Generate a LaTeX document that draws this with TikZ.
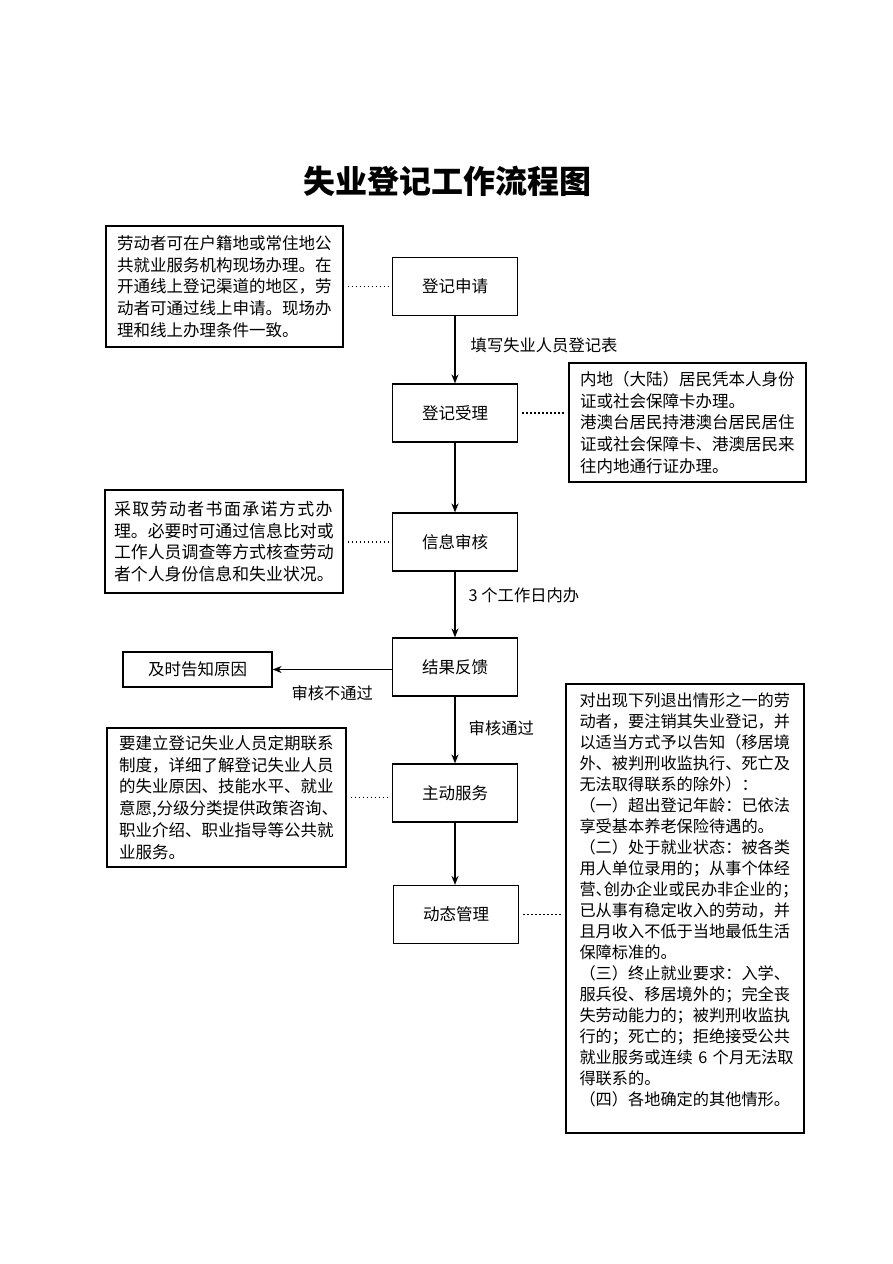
\documentclass[tikz,border=0pt]{standalone}
\usepackage{fontspec}
\setmainfont{Noto Sans CJK SC}
\usetikzlibrary{
    arrows.meta,
    positioning
}
\tikzset{sflow/.style={draw=black, line width=1.2pt, inner sep=0pt, minimum width=125pt, minimum height=58pt, font=\fontsize{16.5}{21.5}\selectfont}}
\tikzset{snote/.style={draw=black, line width=1.2pt, inner sep=0pt, align=left, text width=215pt, font=\fontsize{16.5}{21.7}\selectfont}}
\tikzset{slbl/.style={inner sep=0pt, font=\fontsize{16.3}{20}\selectfont}}
\tikzset{sarr/.style={line width=1.4pt, -{Stealth[length=9pt, width=7pt]}}}
\tikzset{sdot/.style={line width=1.7pt, dash pattern=on 1.5pt off 2.5pt, shorten <=4pt, shorten >=3pt}}

\begin{document}
\begin{tikzpicture}[x=1pt, y=-1pt]
                        \useasboundingbox[fill=white] (0, 0) rectangle (893, 1264);

                        \node[inner sep=0pt, font=\fontsize{32}{32}\bfseries] (title) at (447, 181) {失业登记工作流程图};

                        \node[sflow] (req) at (455, 286.5) {登记申请};
                        \node[sflow] (acc) at (455, 413) {登记受理};
                        \node[sflow] (chk) at (455, 542) {信息审核};
                        \node[sflow] (fb) at (455, 667) {结果反馈};
                        \node[sflow] (svc) at (455, 793) {主动服务};
                        \node[sflow] (dyn) at (456, 914.5) {动态管理};

                        \node[sflow, minimum width=149pt, minimum height=35pt] (reason) at (197.5, 669.5) {及时告知原因};

                        \node[snote, minimum width=237pt, minimum height=121pt] (n1) at (224.5, 286.5) {劳动者可在户籍地或常住地公\\共就业服务机构现场办理。在\\开通线上登记渠道的地区，劳\\动者可通过线上申请。现场办\\理和线上办理条件一致。};
                        \node[snote, minimum width=237pt, minimum height=119pt] (n2) at (687.5, 422.5) {内地（大陆）居民凭本人身份\\证或社会保障卡办理。\\港澳台居民持港澳台居民居住\\证或社会保障卡、港澳居民来\\往内地通行证办理。};
                        \node[snote, text width=220pt, minimum width=238pt, minimum height=103pt, font=\fontsize{16.9}{21.7}\selectfont] (n3) at (224, 541.5) {{\addfontfeature{LetterSpace=8.5}采取劳动者书面承诺方式办}\\理。必要时可通过信息比对或\\工作人员调查等方式核查劳动\\者个人身份信息和失业状况。};
                        \node[snote, minimum width=239pt, minimum height=139pt] (n4) at (226.5, 797.5) {要建立登记失业人员定期联系\\制度，详细了解登记失业人员\\的失业原因、技能水平、就业\\意愿,分级分类提供政策咨询、\\职业介绍、职业指导等公共就\\业服务。};
                        \node[snote, text width=211pt, minimum width=238pt, minimum height=449pt, font=\fontsize{16.2}{21}\selectfont] (n5) at (685, 908.5) {对出现下列退出情形之一的劳\\动者，要注销其失业登记，并\\以适当方式予以告知（移居境\\外、被判刑收监执行、死亡及\\无法取得联系的除外）：\\（一）超出登记年龄：已依法\\享受基本养老保险待遇的。\\（二）处于就业状态：被各类\\用人单位录用的；从事个体经\\营\makebox[0.5em][l]{、}创办企业或民办非企业的；\\已从事有稳定收入的劳动，并\\且月收入不低于当地最低生活\\保障标准的。\\（三）终止就业要求：入学、\\服兵役、移居境外的；完全丧\\失劳动能力的；被判刑收监执\\行的；死亡的；拒绝接受公共\\就业服务或连续~6~个月无法取\\得联系的。\\（四）各地确定的其他情形。\\[-2pt]\mbox{}};

                        \draw[sarr] (req) -- (acc) node[slbl, pos=0.43, right=15pt] {填写失业人员登记表};
                        \draw[sarr] (acc) -- (chk);
                        \draw[sarr] (chk) -- (fb) node[slbl, pos=0.36, right=13pt] {3 个工作日内办};
                        \draw[sarr] (fb) -- (svc) node[slbl, pos=0.48, right=13pt] {审核通过};
                        \draw[sarr] (svc) -- (dyn.north -| svc);
                        \draw[sarr] (fb.west |- reason) -- (reason) node[slbl, pos=0.5, below=15pt] {审核不通过};

                        \draw[sdot] (n1) -- (req);
                        \draw[sdot] (acc) -- (acc -| n2.west);
                        \draw[sdot] (n3.east |- chk) -- (chk);
                        \draw[sdot] (n4) -- (n4 -| svc.west);
                        \draw[sdot] (dyn) -- (dyn -| n5.west);
                    \end{tikzpicture}
\end{document}
